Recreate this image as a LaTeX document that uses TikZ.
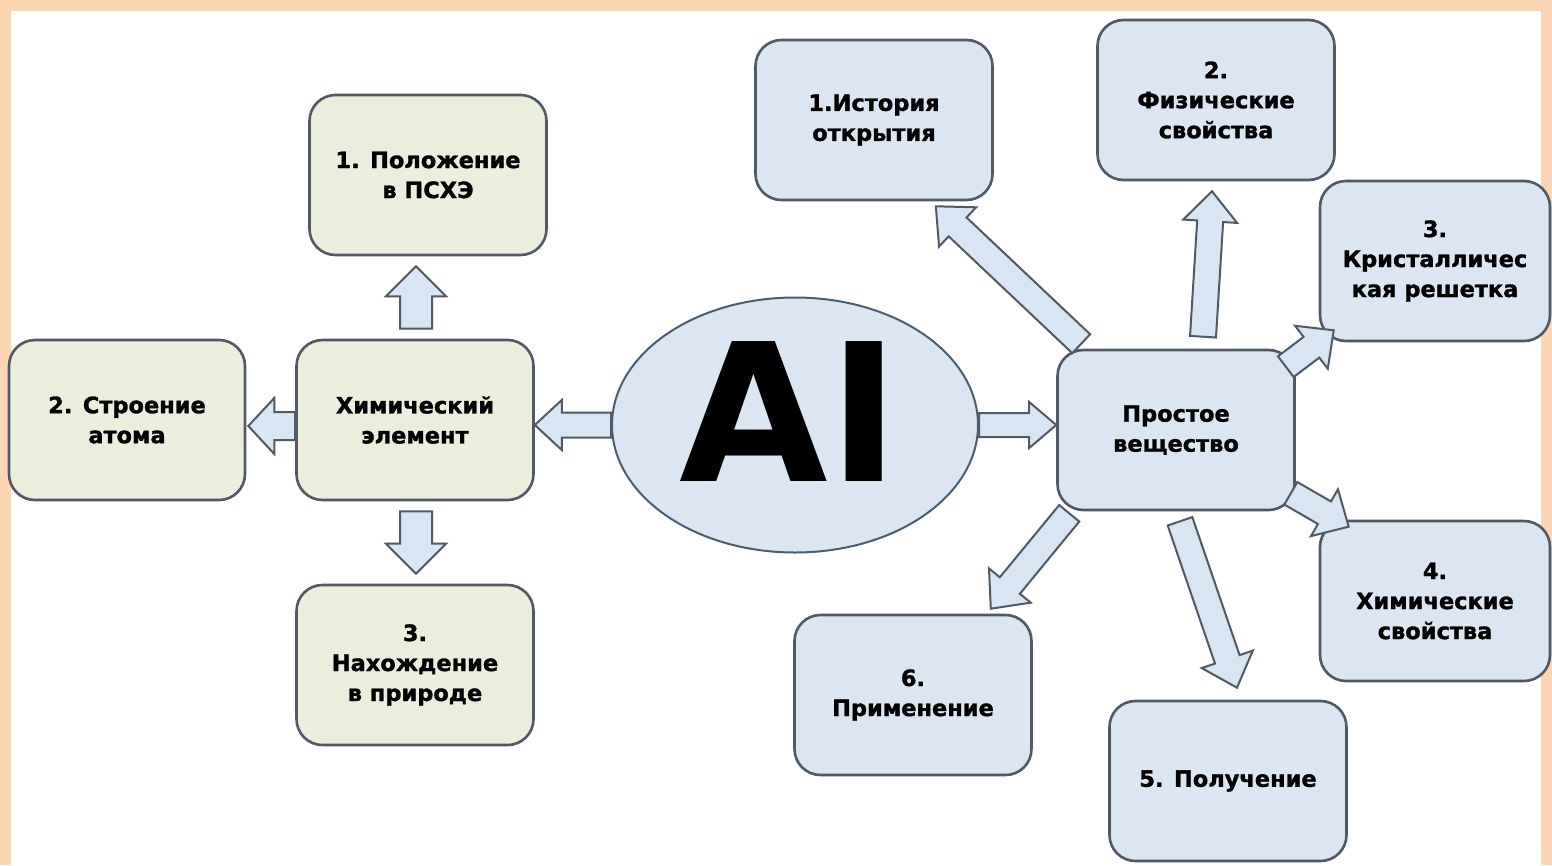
\documentclass[tikz,border=0pt]{standalone}
\usepackage{fontspec}
\setmainfont{DejaVu Sans}[BoldFeatures={FakeBold=1.3}]
\newfontfamily\bigfont{DejaVu Sans}
\usetikzlibrary{calc,shapes.geometric}
\definecolor{peach}{HTML}{FCD5B4}
\definecolor{gfill}{HTML}{EBEEDD}
\definecolor{bfill}{HTML}{DCE6F2}
\definecolor{afill}{HTML}{DAE5F3}
\definecolor{edge}{HTML}{4F5A64}
\definecolor{eedge}{HTML}{4A5E72}
\newcommand\barrow[5]{%
  \coordinate (ba) at #1;
  \coordinate (bb) at #2;
  \coordinate (bh) at ($(bb)!#5!(ba)$);
  \draw[barr] ($(ba)!#3!90:(bb)$) -- ($(bh)!#3!-90:(ba)$) -- ($(bh)!#4!-90:(ba)$) -- (bb)
     -- ($(bh)!#4!90:(ba)$) -- ($(bh)!#3!90:(ba)$) -- ($(ba)!#3!-90:(bb)$) -- cycle;}
\begin{document}
\begin{tikzpicture}[x=1pt,y=-1pt,
  box/.style={draw=edge, line width=2.6pt, rounded corners=26pt, minimum width=237pt,
    minimum height=160pt, align=center, inner sep=0pt,
    font=\bfseries\fontsize{22.5}{30}\selectfont},
  gbox/.style={box, fill=gfill},
  bbox/.style={box, fill=bfill},
  barr/.style={draw=edge, line width=2pt, fill=afill, line join=miter}]
\useasboundingbox (0,0) rectangle (1552,865);
\fill[white] (0,0) rectangle (1552,865);
\fill[peach] (0,0) rectangle (1552,11);
\fill[peach] (0,0) rectangle (11,865);
\fill[peach] (1541,0) rectangle (1552,865);
% left group
\node[gbox] (pos) at (428,175) {1. Положение\\в ПСХЭ};
\node[gbox, minimum width=236pt] (atom) at (127,420) {2. Строение\\атома};
\node[gbox] (elem) at (415,420) {Химический\\элемент};
\node[gbox] (nat) at (415,665) {3.\\Нахождение\\в природе};
% center
\node[ellipse, draw=eedge, line width=2pt, fill=bfill, minimum width=366pt,
  minimum height=255pt, inner sep=0pt] (al) at (795,425) {};
\node[inner sep=0pt, font=\bigfont\bfseries\fontsize{192}{192}\selectfont] (alt) at (790,412) {AI};
% right group
\node[bbox] (pv) at (1176,430) {Простое\\вещество};
\node[bbox] (hist) at (874,120) {1.История\\открытия};
\node[bbox] (phys) at (1216,100) {2.\\Физические\\свойства};
\node[bbox, minimum width=230pt] (cryst) at (1435,261) {3.\\Кристалличес\\кая решетка};
\node[bbox, minimum width=230pt] (chem) at (1435,601) {4.\\Химические\\свойства};
\node[bbox] (get) at (1228,781) {5. Получение};
\node[bbox] (use) at (913,695) {6.\\Применение};
% arrows left
\barrow{([shift={(1pt,10pt)}]elem.north)}{([shift={(-12pt,-10pt)}]pos.south)}{16pt}{30pt}{30pt}
\barrow{([yshift=-6pt]elem.west)}{([yshift=-6pt,xshift=2pt]atom.east)}{14pt}{28pt}{26pt}
\barrow{([shift={(1pt,-10pt)}]elem.south)}{([shift={(1pt,10pt)}]nat.north)}{16pt}{30pt}{30pt}
\barrow{(al.west)}{([yshift=-5pt]elem.east)}{12.5pt}{25pt}{27pt}
\barrow{(al.east)}{([yshift=5pt]pv.west)}{12pt}{23pt}{27pt}
% arrows right
\barrow{([shift={(25pt,5pt)}]pv.north west)}{([shift={(-58pt,-5pt)}]hist.south east)}{13pt}{27pt}{30pt}
\barrow{([shift={(27pt,12pt)}]pv.north)}{([shift={(-4pt,-10pt)}]phys.south)}{13pt}{27pt}{30pt}
\barrow{([shift={(-10pt,-18pt)}]pv.north east)}{([shift={(15pt,12pt)}]cryst.south west)}{13pt}{27pt}{28pt}
\barrow{([shift={(-5pt,18pt)}]pv.south east)}{([shift={(30pt,-7pt)}]chem.north west)}{13pt}{27pt}{28pt}
\barrow{([shift={(4pt,-10pt)}]pv.south)}{([shift={(9pt,12pt)}]get.north)}{13pt}{27pt}{30pt}
\barrow{([shift={(13pt,-2pt)}]pv.south west)}{([shift={(-42pt,5pt)}]use.north east)}{13pt}{27pt}{30pt}
\end{tikzpicture}
\end{document}
